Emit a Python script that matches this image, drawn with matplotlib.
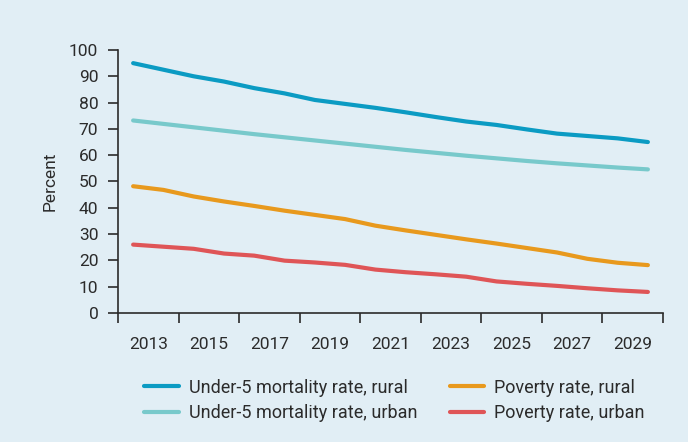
import numpy as np
import matplotlib.pyplot as plt
from matplotlib.ticker import FixedLocator

# data (one value per year)
years = np.arange(2012, 2030)
u5_rural = [95.0, 92.5, 90.0, 88.0, 85.5, 83.5, 81.0, 79.5, 78.0, 76.3,
            74.5, 72.8, 71.5, 69.8, 68.2, 67.3, 66.4, 65.0]
u5_urban = [73.2, 71.9, 70.6, 69.3, 68.0, 66.8, 65.6, 64.4, 63.2, 62.0,
            60.9, 59.8, 58.8, 57.8, 56.9, 56.1, 55.3, 54.6]
pov_rural = [48.2, 46.8, 44.3, 42.4, 40.7, 38.9, 37.3, 35.7, 33.2, 31.4,
             29.7, 28.0, 26.4, 24.7, 23.0, 20.6, 19.1, 18.2]
pov_urban = [26.0, 25.2, 24.4, 22.6, 21.8, 19.9, 19.2, 18.3, 16.5, 15.5,
             14.7, 13.8, 12.0, 11.1, 10.3, 9.4, 8.6, 8.0]

labels = ["Under-5 mortality rate, rural", "Under-5 mortality rate, urban",
          "Poverty rate, rural", "Poverty rate, urban"]
colors = ["#0b9bc3", "#78c9cb", "#e8991d", "#df5557"]
bg = "#e1eef5"
ink = "#2b2b2b"

plt.rcParams['font.family'] = ['Roboto', 'DejaVu Sans']

fig = plt.figure(figsize=(6.88, 4.42), dpi=100, facecolor=bg)
ax = fig.add_axes([0.1715, 0.2919, 0.7922, 0.595])
ax.set_facecolor(bg)

x = years + 0.5
for vals, lab, c in zip([u5_rural, u5_urban, pov_rural, pov_urban], labels, colors):
    ax.plot(x, vals, color=c, lw=3, label=lab, solid_capstyle='round')

ax.set_xlim(2012, 2030)
ax.set_ylim(0, 100)
ax.set_yticks(range(0, 101, 10))
ax.xaxis.set_major_locator(FixedLocator(range(2012, 2031, 2)))
ax.xaxis.set_minor_locator(FixedLocator(range(2013, 2030, 2)))
ax.xaxis.set_major_formatter(plt.NullFormatter())
ax.set_xticklabels([str(y) for y in range(2013, 2030, 2)], minor=True)

for s in ['top', 'right']:
    ax.spines[s].set_visible(False)
for s in ['left', 'bottom']:
    ax.spines[s].set_color(ink)
    ax.spines[s].set_linewidth(1.2)

ax.tick_params(axis='both', which='major', direction='out', length=7.2,
               width=1.2, color=ink, labelcolor=ink, labelsize=12.5)
ax.tick_params(axis='y', pad=7)
ax.tick_params(axis='x', which='minor', length=0, pad=17, labelsize=12.5,
               labelcolor=ink)

ax.set_ylabel("Percent", fontsize=12.5, color=ink, labelpad=8)

fig.legend(loc='upper left', bbox_to_anchor=(0.21, 0.143), ncol=2,
           frameon=False, fontsize=13, handlelength=1.9, handletextpad=0.55,
           columnspacing=1.8, labelspacing=0.42, labelcolor=ink,
           borderaxespad=0, borderpad=0)

fig.savefig("out.png", dpi=100, facecolor=bg)
